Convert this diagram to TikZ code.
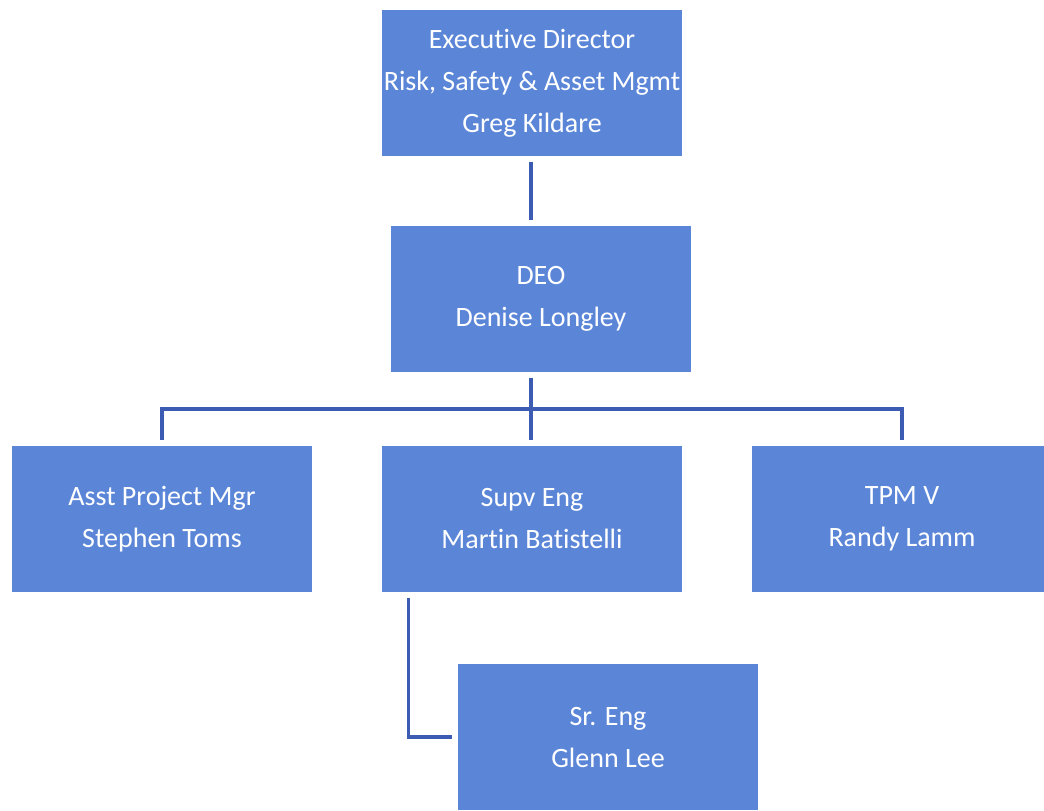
\documentclass[tikz,border=0pt]{standalone}
\usepackage{fontspec}
\setmainfont{Carlito}[Ligatures=NoCommon]
\definecolor{boxblue}{HTML}{5B86D8}
\definecolor{lineblue}{HTML}{3C5CB4}
\tikzset{
  orgbox/.style={fill=boxblue, draw=none, text=white, align=center,
    minimum width=225pt, minimum height=109.5pt, inner sep=0pt,
    font=\fontsize{21}{31.5}\selectfont},
  orgline/.style={draw=lineblue, line width=2.3pt}
}
\begin{document}
\begin{tikzpicture}[x=0.75pt, y=-0.75pt]
  \useasboundingbox (0,0) rectangle (1044,810);
  % Boxes
  \node[orgbox] (exec)  at (532, 83)  {Executive Director\\Risk, Safety \& Asset Mgmt\\Greg Kildare};
  \node[orgbox] (deo)   at (541, 299) {DEO\\Denise Longley};
  \node[orgbox] (asst)  at (162, 519) {Asst Project Mgr\\Stephen Toms};
  \node[orgbox] (supv)  at (532, 519) {Supv Eng\\Martin Batistelli};
  \node[orgbox] (tpm)   at (902, 519) {TPM V\\Randy Lamm};
  \node[orgbox] (sreng) at (608, 737) {Sr. Eng\\Glenn Lee};
  \coordinate (bar) at (531, 409);
  % Lines
  \draw[orgline, shorten <=4pt, shorten >=4pt] (bar |- exec.south) -- (bar |- deo.north);
  \draw[orgline, shorten <=4pt] (bar |- deo.south) -- (bar);
  \draw[orgline, shorten <=4pt, shorten >=4pt] (asst.north) |- (bar) -| (tpm.north);
  \draw[orgline, shorten >=4pt] (bar) -- (bar |- supv.north);
  \draw[orgline, shorten <=4pt, shorten >=4pt] ([xshift=20.25pt]supv.south west) |- (sreng.west);
\end{tikzpicture}
\end{document}
